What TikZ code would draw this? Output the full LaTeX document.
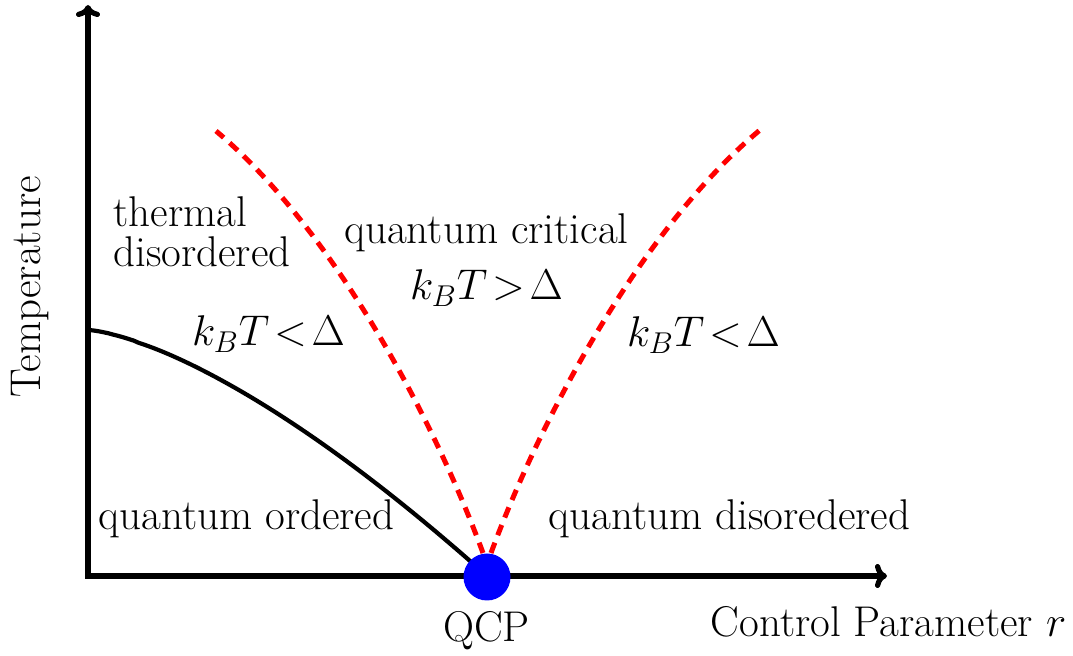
\RequirePackage{fix-cm}
\documentclass[tikz,border=0pt]{standalone}
\usepackage{fontspec}
\usetikzlibrary{arrows.meta}
\newcommand\mylblfont{\fontsize{21.5}{25.8}\selectfont\thickmuskip=2mu\relax}
\begin{document}
\begin{tikzpicture}[x=0.5pt,y=-0.5pt,
  axis/.style={line width=2.6pt,line join=miter,{To[length=6pt,width=12pt]}-{To[length=6pt,width=12pt]}},
  phase/.style={line width=2.1pt},
  crit/.style={red,line width=2.5pt,dash pattern=on 5.5pt off 4pt},
  qcpdot/.style={circle,fill=blue,minimum size=23.5pt,inner sep=0pt},
  lbl/.style={font=\mylblfont,inner sep=0pt,anchor=base}]
\useasboundingbox (0,0) rectangle (1073,656);
\coordinate (ytop) at (88,5);
\coordinate (origin) at (88,576);
\coordinate (xend) at (887,576);
\coordinate (lstart) at (483,553);
\coordinate (lend) at (216,131);
\coordinate (rstart) at (491,553);
\coordinate (rend) at (760,130);
% phase boundary
\draw[phase] plot[domain=0.0001:1,samples=80,variable=\s] ({88+399*\s},{576-246*(1-(\s)^1.45)});
% crossover lines
\draw[crit] (lstart) .. controls (434,420) and (334,230) .. (lend);
\draw[crit] (rstart) .. controls (540,420) and (640,230) .. (rend);
% axes
\draw[axis] (ytop) -- (origin) -- (xend);
\node[qcpdot] (qcp) at (487,577) {};
% labels
\node[lbl,anchor=base west] (th1) at (113,227) {thermal};
\node[lbl,anchor=base west] (th2) at (113,267) {disordered};
\node[lbl] (qc) at (486.5,244) {quantum critical};
\node[lbl] (gt) at (486.5,300) {$k_BT>\Delta$};
\node[lbl] (ltl) at (268.5,346) {$k_BT<\Delta$};
\node[lbl] (ltr) at (703.5,347) {$k_BT<\Delta$};
\node[lbl] (qo) at (246.5,530) {quantum ordered};
\node[lbl] (qd) at (729.5,530) {quantum disoredered};
\node[lbl] (qcpl) at (486.5,642) {QCP};
\node[lbl] (xl) at (888.5,637) {Control Parameter $r$};
\node[lbl,rotate=90] (yl) at (40,287) {Temperature};
\end{tikzpicture}
\end{document}
